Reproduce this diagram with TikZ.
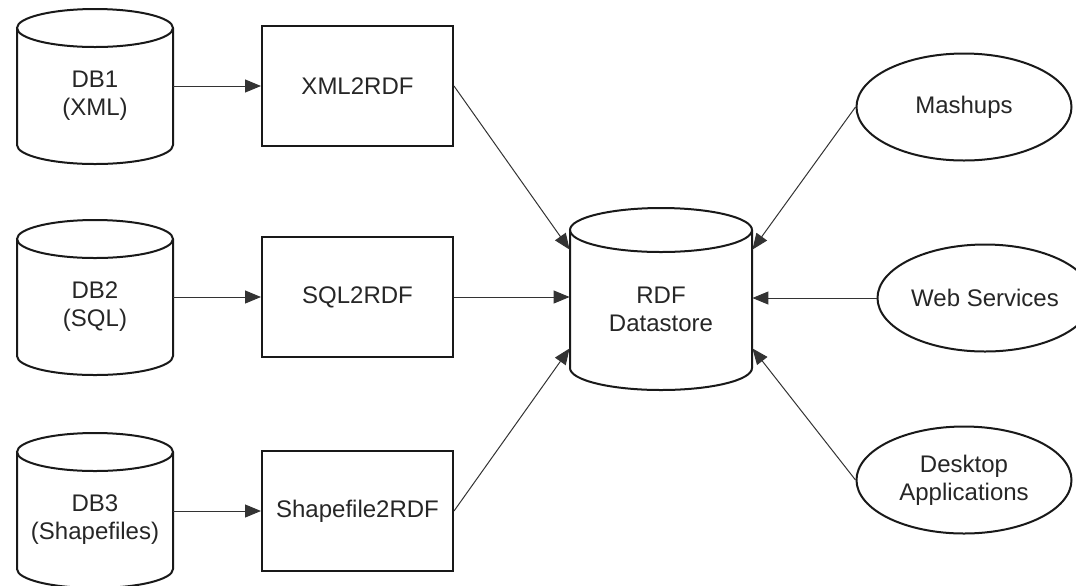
\documentclass[tikz,border=0pt]{standalone}
\usepackage{fontspec}
\setmainfont{Liberation Sans}
\usetikzlibrary{shapes.geometric,arrows.meta}

\begin{document}
\begin{tikzpicture}[x=0.5pt,y=-0.5pt,
  font=\fontsize{12}{14}\selectfont,
  cyl/.style={line width=1pt,black!90},
  dbtext/.style={align=center,minimum width=78pt,inner sep=0pt,text=black!85},
  conv/.style={draw,line width=1pt,black!90,minimum width=95.5pt,minimum height=60pt,inner sep=0pt,text=black!85},
  app/.style={draw,ellipse,line width=1pt,black!90,minimum width=107.5pt,minimum height=53.5pt,inner sep=0pt,align=center,text=black!85},
  feed/.style={-{Triangle[length=8pt,width=6.5pt]},line width=0.5pt,black!80}]
\useasboundingbox (0,0) rectangle (1076,585);
\clip (0,0) rectangle (1076,585);

% source databases
\foreach \n/\yt/\txt in {1/28/{DB1\\(XML)},2/239/{DB2\\(SQL)},3/452/{DB3\\(Shapefiles)}}
{
\draw[cyl] (17,\yt) -- ++(0,117) arc[start angle=180,end angle=360,x radius=39pt,y radius=9.5pt] -- ++(0,-117);
\draw[cyl] (95,\yt) ellipse [x radius=39pt,y radius=9.5pt];
\node[dbtext] (db\n) at (95,\yt+68) {\txt};
}

% converters
\node[conv] (xml) at (357.5,86) {XML2RDF};
\node[conv] (sql) at (357.5,297) {SQL2RDF};
\node[conv] (shp) at (357.5,511) {Shapefile2RDF};

% datastore
\draw[cyl] (570,230) -- (570,368) arc[start angle=180,end angle=360,x radius=45.5pt,y radius=11pt] -- (752,230);
\draw[cyl] (661,230) ellipse [x radius=45.5pt,y radius=11pt];
\node[minimum width=91pt,minimum height=49pt,inner sep=0pt] (rdf) at (661,299) {};
\node[align=center,text=black!85] (rdftxt) at (661,309) {RDF\\Datastore};

% clients
\node[app] (mash) at (964,107) {Mashups};
\node[app] (web) at (985,298) {Web Services};
\node[app] (desk) at (964,480) {Desktop\\Applications};

\draw[feed] (db1.east |- xml.west) -- (xml.west);
\draw[feed] (db2.east |- sql.west) -- (sql.west);
\draw[feed] (db3.east |- shp.west) -- (shp.west);

\draw[feed] (xml.east) -- (rdf.north west);
\draw[feed] (sql.east) -- (rdf.west |- sql.east);
\draw[feed] (shp.east) -- (rdf.south west);

\draw[feed] (mash.west) -- (rdf.north east);
\draw[feed] (web.west) -- (rdf.east |- web.west);
\draw[feed] (desk.west) -- (rdf.south east);
\end{tikzpicture}
\end{document}
